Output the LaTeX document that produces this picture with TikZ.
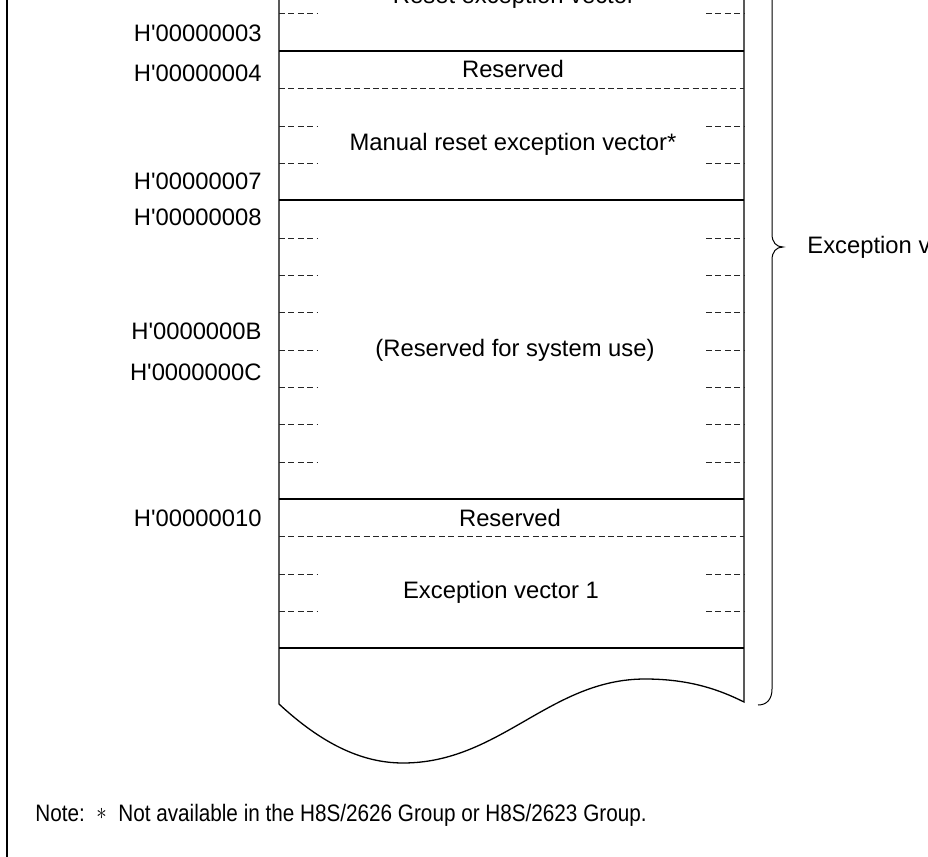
\documentclass[tikz,border=0pt]{standalone}
\usepackage{graphicx}
\usepackage{fontspec}
\setmainfont{Liberation Sans}[Ligatures=TeXOff]
\begin{document}
\begin{tikzpicture}[x=0.5pt,y=-0.5pt,
  solidline/.style={line width=0.65pt},
  dashline/.style={line width=0.5pt, black!85, dash pattern=on 3pt off 1.7pt},
  fr/.style={line width=1pt},
  bracestyle/.style={line width=0.5pt},
  lbl/.style={inner sep=0pt, anchor=base east, font=\fontsize{11.9}{14}\selectfont},
  txt/.style={inner sep=0pt, anchor=base, font=\fontsize{11.9}{14}\selectfont}]
\useasboundingbox (0,0) rectangle (928,857);
\clip (0,0) rectangle (928,857);
\fill[white] (0,0) rectangle (928,857);
% frame line
\draw[fr] (7,-10) -- (7,870);
% box outline with wavy bottom
\draw[solidline] (279,-20) -- (279,704)
  .. controls (320,742) and (360,763) .. (403,763)
  .. controls (500,763) and (550,679) .. (645,679)
  .. controls (690,679) and (720,690) .. (744,702)
  -- (744,-20);
% solid separators
\foreach \y in {51,200,499,648} \draw[solidline] (279,\y) -- (744,\y);
% full dashed separators
\foreach \y in {88,536} \draw[dashline] (279,\y) -- (744,\y);
% stubs
\foreach \y in {13,126,163,238,275,312,350,387,424,462,574,611} {
  \draw[dashline] (279,\y) -- (317,\y);
  \draw[dashline] (706,\y) -- (744,\y);
}
% address labels
\node[lbl] (a3) at (262,41) {H'00000003};
\node[lbl] (a4) at (262,81) {H'00000004};
\node[lbl] (a7) at (262,189) {H'00000007};
\node[lbl] (a8) at (262,225) {H'00000008};
\node[lbl] (aB) at (262,339) {H'0000000B};
\node[lbl] (aC) at (262,380) {H'0000000C};
\node[lbl] (a10) at (262,526) {H'00000010};
% contents
\node[txt] (rv) at (514,3.5) {Reset exception vector};
\node[txt] (r1) at (513,77) {Reserved};
\node[txt] (mr) at (513,150) {Manual reset exception vector*};
\node[txt] (sys) at (515,356) {(Reserved for system use)};
\node[txt] (r2) at (510,526) {Reserved};
\node[txt] (ev1) at (501,598) {Exception vector 1};
% brace
\draw[bracestyle] (772,-20) -- (772,234)
  .. controls (772,242) and (776,247) .. (783,247)
  .. controls (776,247) and (772,252) .. (772,260)
  -- (772,689)
  .. controls (772,699) and (767,705) .. (758,705);
\node[inner sep=0pt, anchor=base west, font=\fontsize{11.9}{14}\selectfont] (evt) at (807,253) {Exception vector table};
% note
\node[inner sep=0pt, anchor=base west, font=\fontsize{11.9}{14}\selectfont] (note) at (35,821)
  {\scalebox{0.87}[1]{Note:\ \ \raisebox{0.1ex}{$\ast$}\ \ Not available in the H8S/2626 Group or H8S/2623 Group.}};
\end{tikzpicture}
\end{document}
